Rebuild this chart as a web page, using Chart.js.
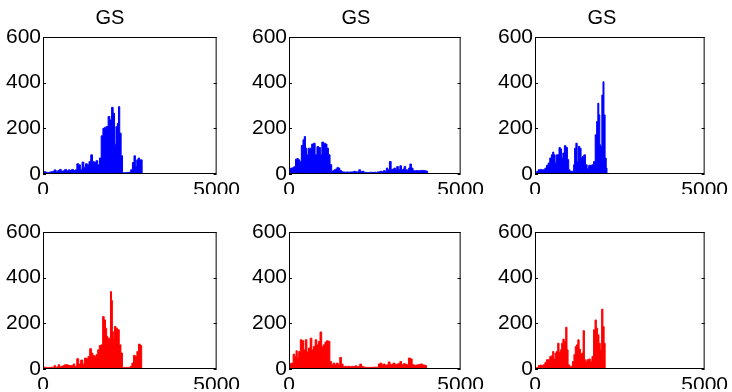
<!DOCTYPE html>
<html><head><meta charset="utf-8">
<script src="https://cdn.jsdelivr.net/npm/chart.js@4/dist/chart.umd.min.js"></script>
<style>
html,body{margin:0;padding:0;background:#fff;overflow:hidden;width:732px;height:392px}
canvas{position:absolute}
</style></head><body>
<canvas id="c3" width="244" height="196" style="left:0px;top:196px"></canvas>
<canvas id="c4" width="244" height="196" style="left:244px;top:196px"></canvas>
<canvas id="c5" width="244" height="196" style="left:488px;top:196px"></canvas>
<canvas id="c0" width="244" height="215" style="left:0px;top:0px"></canvas>
<canvas id="c1" width="244" height="215" style="left:244px;top:0px"></canvas>
<canvas id="c2" width="244" height="215" style="left:488px;top:0px"></canvas>
<script>
// ---- data ----
const titles = ["GS", "GS", "GS", "", "", ""];
const yTicks = [0, 200, 400, 600];
const xTicks = [0, 5000];

const x1 = [0,50,100,150,200,250,300,350,400,450,500,550,600,650,700,750,800,850,900,950,
  1000,1050,1100,1150,1200,1250,1300,1350,1400,1450,1500,1550,1600,1650,1700,1750,1800,1850,1900,1950,
  2000,2040,2080,2120,2160,2190,2230,2270,2310,2350,2400,2450,2500,2550,2600,2640,2680,2720,2760,2800,2840,2870];
const y1 = [8,10,8,6,8,10,12,18,10,15,20,12,14,20,14,18,16,20,15,18,
  45,40,20,52,30,45,40,55,84,55,50,58,40,70,167,200,205,208,252,237,
  292,266,130,208,222,295,179,80,5,6,7,7,8,19,50,80,33,62,70,62,62,0];

const x2 = [0,30,60,100,140,170,210,250,290,335,383,430,460,500,545,593,630,690,737,785,
  842,890,938,976,1033,1081,1130,1167,1225,1263,1300,1340,1380,1416,1455,1502,1550,1600,1650,1700,
  1750,1800,1866,1914,1960,2010,2058,2100,2153,2200,2250,2300,2350,2400,2450,2500,2550,2600,2640,2680,
  2730,2775,2820,2852,2900,2950,3000,3040,3080,3120,3160,3206,3254,3300,3340,3369,3426,3470,3500,3541,
  3589,3636,3680,3732,3780,3830,3880,3930,3980,4030,4050];
const y2 = [58,20,26,26,30,33,65,68,62,55,125,150,164,113,84,113,113,131,135,84,
  120,116,84,140,135,131,113,84,41,12,15,19,22,29,26,16,10,9,8,9,
  8,9,9,12,10,9,19,10,12,8,7,6,7,8,7,8,7,9,10,12,
  10,15,12,26,19,55,19,22,26,19,33,19,36,19,22,33,19,15,26,44,
  26,15,14,15,14,15,16,15,14,12,0];

const x3 = [0,28,75,125,170,220,270,315,363,410,460,506,535,573,611,650,688,727,765,803,
  841,890,937,975,1013,1050,1090,1130,1148,1186,1224,1262,1300,1339,1377,1415,1463,1511,1559,1607,
  1655,1702,1750,1798,1837,1866,1895,1925,1951,1990,2018,2047,2085,2114,2130];
const y3 = [2,4,12,19,20,19,19,26,38,48,70,84,96,84,48,84,84,116,110,70,
  92,124,116,63,19,12,12,12,41,113,135,55,121,113,70,77,84,41,23,38,
  38,41,55,172,230,310,259,128,120,346,404,259,70,26,0];

const x4 = [0,50,100,150,200,250,300,335,380,420,460,500,550,600,650,700,750,800,850,890,
  940,1005,1050,1120,1170,1225,1270,1320,1370,1416,1455,1502,1550,1598,1646,1694,1742,1780,1818,1847,
  1885,1924,1962,1985,2010,2038,2077,2125,2172,2220,2268,2306,2345,2400,2450,2490,2536,2584,2632,2680,
  2727,2775,2823,2860];
const y4 = [7,8,7,6,7,8,7,15,7,10,19,10,12,15,19,19,15,15,15,22,
  12,45,22,39,22,48,45,55,89,70,60,55,63,84,103,106,230,215,179,143,
  135,135,339,300,164,135,186,179,172,106,70,4,7,7,7,7,12,26,60,55,
  77,109,103,0];

const x5 = [0,30,50,96,144,191,220,258,306,354,402,450,498,545,593,641,690,737,785,833,
  880,928,976,1024,1072,1120,1167,1215,1263,1311,1359,1407,1455,1502,1550,1600,1650,1700,1750,1800,
  1850,1900,1950,2000,2040,2086,2130,2200,2300,2400,2500,2580,2632,2680,2727,2775,2823,2870,2919,2967,
  3015,3062,3110,3158,3206,3254,3302,3350,3397,3445,3512,3560,3617,3685,3740,3800,3860,3920,3980,4030];
const y5 = [51,25,22,26,65,55,80,48,77,128,124,84,128,77,92,135,84,99,128,106,
  121,162,99,106,118,124,121,33,19,26,19,26,19,51,22,10,12,10,12,10,
  12,10,14,10,12,22,12,8,7,7,8,8,22,26,19,22,16,19,31,19,
  22,26,19,22,23,33,19,23,22,19,48,44,19,16,18,20,22,18,16,0];

const x6 = [0,28,75,125,170,220,267,315,363,410,460,506,535,573,611,650,688,727,765,803,
  841,880,930,956,994,1033,1080,1128,1167,1205,1243,1281,1320,1358,1396,1440,1473,1511,1559,1607,
  1655,1702,1750,1789,1827,1865,1904,1942,1985,2018,2056,2080];
const y6 = [2,4,7,15,17,15,19,29,41,41,55,58,77,44,70,77,113,73,84,113,
  131,121,183,84,19,12,12,33,63,99,106,128,87,63,70,168,41,33,41,44,
  33,55,172,215,179,150,113,84,262,186,113,0];

const seriesX = [x1, x2, x3, x4, x5, x6];
const seriesY = [y1, y2, y3, y4, y5, y6];
const colors = ["#0000ff", "#0000ff", "#0000ff", "#ff0000", "#ff0000", "#ff0000"];

// ---- layout (chart areas in canvas-local px) ----
const canvasH = [215, 196];
const areaLeft = [43, 45, 47];
const areaRight = [217, 219, 221];
const areaTop = [37, 36];
const areaBottom = [174, 173];
const YW = 40, XH = 20;
const FONT = "'Liberation Sans', Arial, sans-serif";

const boxPlugin = {
  id: 'matlabBox',
  afterDatasetsDraw(chart) {
    const {ctx, chartArea: a, scales} = chart;
    ctx.save();
    ctx.strokeStyle = '#000';
    ctx.lineWidth = 1;
    ctx.strokeRect(a.left + 0.5, a.top + 0.5, a.right - a.left - 1, a.bottom - a.top - 1);
    ctx.beginPath();
    const tl = 3;
    scales.y.ticks.forEach(t => {
      const py = Math.round(scales.y.getPixelForValue(t.value)) + 0.5;
      ctx.moveTo(a.left, py); ctx.lineTo(a.left + tl, py);
      ctx.moveTo(a.right, py); ctx.lineTo(a.right - tl, py);
    });
    ctx.stroke();
    ctx.restore();
  }
};

for (let i = 0; i < 6; i++) {
  const row = Math.floor(i / 3), col = i % 3;
  const data = seriesX[i].map((x, k) => ({x: x, y: seriesY[i][k]}));
  const hasTitle = titles[i] !== "";
  const top = areaTop[row];
  new Chart(document.getElementById('c' + i), {
    type: 'line',
    data: { datasets: [{
      data: data,
      stepped: 'middle',
      fill: 'origin',
      backgroundColor: colors[i],
      borderColor: colors[i],
      borderWidth: 1,
      pointRadius: 0,
      tension: 0
    }]},
    options: {
      responsive: false,
      animation: false,
      events: [],
      layout: { padding: {
        left: areaLeft[col] - YW,
        right: 244 - areaRight[col],
        top: hasTitle ? 0 : top,
        bottom: canvasH[row] - areaBottom[row] - XH
      }},
      plugins: {
        legend: { display: false },
        tooltip: { enabled: false },
        title: {
          display: hasTitle,
          text: titles[i],
          color: '#000',
          font: { family: FONT, size: 20, weight: 'normal', lineHeight: 1 },
          padding: { top: 8, bottom: top - 20 - 8 }
        }
      },
      scales: {
        x: {
          type: 'linear', min: 0, max: 5000,
          afterBuildTicks: s => { s.ticks = xTicks.map(v => ({value: v})); },
          afterFit: s => { s.height = XH; },
          grid: { display: false, drawTicks: false },
          border: { display: false },
          ticks: { color: '#000', font: { family: FONT, size: 21 }, padding: 4, maxRotation: 0, autoSkip: false,
                   callback: v => String(v) }
        },
        y: {
          min: 0, max: 600,
          afterBuildTicks: s => { s.ticks = yTicks.map(v => ({value: v})); },
          afterFit: s => { s.width = YW; },
          grid: { display: false, drawTicks: false },
          border: { display: false },
          ticks: { color: '#000', font: { family: FONT, size: 21 }, padding: 2, callback: v => String(v) }
        }
      }
    },
    plugins: [boxPlugin]
  });
}
</script>
</body></html>
